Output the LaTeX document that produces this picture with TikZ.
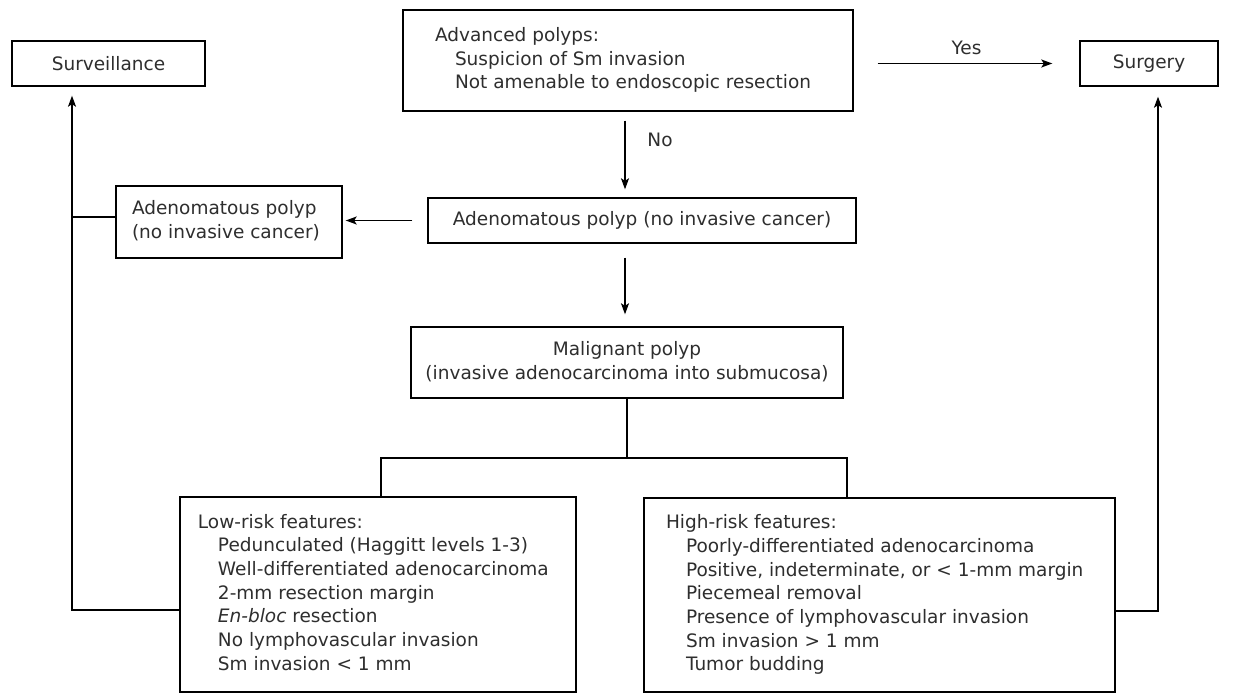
\documentclass[tikz,border=0pt]{standalone}
\usepackage{fontspec}
\setmainfont{DejaVu Sans}
\usetikzlibrary{arrows.meta}
\newcommand{\fsz}{\fontsize{18.5bp}{23.7bp}\selectfont}
\newcommand{\ind}{\hspace*{20bp}}
\begin{document}
\begin{tikzpicture}[x=1bp,y=-1bp,
  box/.style={draw, line width=1.4bp, inner sep=0pt, align=center, font=\fsz, text=black!82},
  lab/.style={inner sep=0pt, font=\fsz, text=black!82},
  ln/.style={line width=1.4bp},
  arr/.style={line width=1.4bp, -{Stealth[length=11bp,width=8bp,inset=2.5bp]}}]
\useasboundingbox[fill=white] (0,0) rectangle (1233,693);

% boxes
\node[box, minimum width=193bp, minimum height=45bp] (surv) at (108.5,63.5) {Surveillance};
\node[box, minimum width=138bp, minimum height=45bp] (surg) at (1149,63.5) {Surgery};
\node[box, minimum width=450bp, minimum height=101bp] (top) at (628,60.5)
  {\raisebox{3.5bp}{\makebox[386bp][l]{\begin{tabular}{@{}l@{}}Advanced polyps:\\
   \ind Suspicion of Sm invasion\\
   \ind Not amenable to endoscopic resection\end{tabular}}}};
\node[box, minimum width=428bp, minimum height=45bp] (mid) at (642,220.5)
  {Adenomatous polyp (no invasive cancer)};
\node[box, minimum width=226bp, minimum height=72bp] (lb) at (229,222)
  {\makebox[194bp][l]{\begin{tabular}{@{}l@{}}Adenomatous polyp\\(no invasive cancer)\end{tabular}}};
\node[box, minimum width=432bp, minimum height=71bp] (mal) at (627,362.5)
  {\begin{tabular}{@{}c@{}}Malignant polyp\\(invasive adenocarcinoma into submucosa)\end{tabular}};
\node[box, minimum width=396bp, minimum height=195bp] (low) at (378,594.5)
  {\raisebox{-3bp}{\makebox[360bp][l]{\begin{tabular}{@{}l@{}}Low-risk features:\\
   \ind Pedunculated (Haggitt levels 1-3)\\
   \ind Well-differentiated adenocarcinoma\\
   \ind 2-mm resection margin\\
   \ind \textit{En-bloc} resection\\
   \ind No lymphovascular invasion\\
   \ind Sm invasion < 1 mm\end{tabular}}}};
\node[box, minimum width=471bp, minimum height=194bp] (high) at (879.5,595)
  {\raisebox{-2.5bp}{\makebox[427bp][l]{\begin{tabular}{@{}l@{}}High-risk features:\\
   \ind Poorly-differentiated adenocarcinoma\\
   \ind Positive, indeterminate, or < 1-mm margin\\
   \ind Piecemeal removal\\
   \ind Presence of lymphovascular invasion\\
   \ind Sm invasion > 1 mm\\
   \ind Tumor budding\end{tabular}}}};

% helper coordinates
\coordinate (lx) at (72,610);
\coordinate (rx) at (1158,611);
\coordinate (bl) at (381,458);
\coordinate (bh) at (847,458);

% connectors
\draw[arr, shorten <=24bp, shorten >=27bp] (top.east |- surg.west) -- node[lab, yshift=15.5bp] (yes) {Yes} (surg.west);
\draw[arr, shorten <=9bp, shorten >=8bp] ([xshift=-3bp]top.south) -- ([xshift=-3bp]top.south |- mid.north);
\node[lab] (no) at (660,140) {No};
\draw[arr, shorten <=15bp, shorten >=3bp] (mid.west) -- (mid.west -| lb.east);
\draw[ln] ([yshift=5bp]lb.west) -- ([yshift=5bp]lb.west -| lx);
\draw[arr, shorten >=9bp] (low.west |- lx) -- (lx) -- (lx |- surv.south);
\draw[arr, shorten >=10bp] (high.east |- rx) -- (rx) -- (rx |- surg.south);
\draw[arr, shorten <=14bp, shorten >=12bp] ([xshift=-17bp]mid.south) -- ([xshift=-17bp]mid.south |- mal.north);
\draw[ln] (mal.south) -- (mal.south |- bl);
\draw[ln] (bl |- low.north) -- (bl) -- (bh) -- (bh |- high.north);
\end{tikzpicture}
\end{document}
